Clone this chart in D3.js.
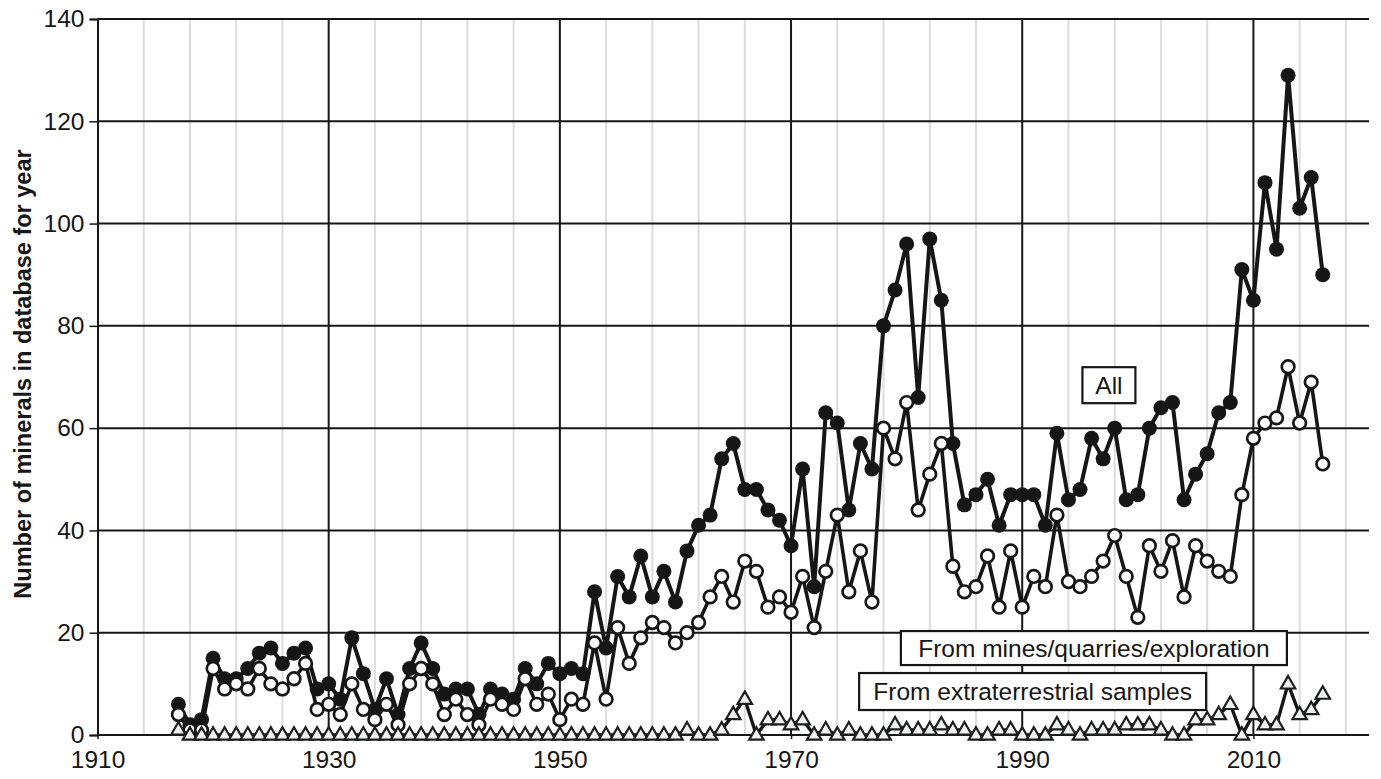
<!DOCTYPE html>
<html>
<head>
<meta charset="utf-8">
<script src="https://cdn.jsdelivr.net/npm/d3@7"></script>
<style>
  html, body { margin: 0; padding: 0; background: #fff; }
  svg { display: block; font-family: "Liberation Sans", Arial, sans-serif; }
</style>
</head>
<body>
<svg id="chart" width="1381" height="779"></svg>
<script>
// Number of new mineral species per year of description, 1917-2016
const firstYear = 1917;
const allMinerals = [
  6, 2, 3, 15, 11, 11, 13, 16, 17, 14, 16, 17, 9, 10, 7, 19, 12, 5, 11, 4,
  13, 18, 13, 8, 9, 9, 4, 9, 8, 7, 13, 10, 14, 12, 13, 12, 28, 17, 31, 27,
  35, 27, 32, 26, 36, 41, 43, 54, 57, 48, 48, 44, 42, 37, 52, 29, 63, 61, 44, 57,
  52, 80, 87, 96, 66, 97, 85, 57, 45, 47, 50, 41, 47, 47, 47, 41, 59, 46, 48, 58,
  54, 60, 46, 47, 60, 64, 65, 46, 51, 55, 63, 65, 91, 85, 108, 95, 129, 103, 109, 90
];
const fromMines = [
  4, 1, 1, 13, 9, 10, 9, 13, 10, 9, 11, 14, 5, 6, 4, 10, 5, 3, 6, 2,
  10, 13, 10, 4, 7, 4, 2, 7, 6, 5, 11, 6, 8, 3, 7, 6, 18, 7, 21, 14,
  19, 22, 21, 18, 20, 22, 27, 31, 26, 34, 32, 25, 27, 24, 31, 21, 32, 43, 28, 36,
  26, 60, 54, 65, 44, 51, 57, 33, 28, 29, 35, 25, 36, 25, 31, 29, 43, 30, 29, 31,
  34, 39, 31, 23, 37, 32, 38, 27, 37, 34, 32, 31, 47, 58, 61, 62, 72, 61, 69, 53
];
const fromExtraterrestrial = [
  1, 0, 0, 0, 0, 0, 0, 0, 0, 0, 0, 0, 0, 0, 0, 0, 0, 0, 0, 0,
  0, 0, 0, 0, 0, 0, 0, 0, 0, 0, 0, 0, 0, 0, 0, 0, 0, 0, 0, 0,
  0, 0, 0, 0, 1, 0, 0, 1, 4, 7, 0, 3, 3, 2, 3, 0, 1, 0, 1, 0,
  0, 0, 2, 1, 1, 1, 2, 1, 1, 0, 0, 1, 1, 0, 0, 0, 2, 1, 0, 1,
  1, 1, 2, 2, 2, 1, 0, 0, 3, 3, 4, 6, 0, 4, 2, 2, 10, 4, 5, 8
];
const years = allMinerals.map((_, i) => firstYear + i);

const xTicks = [1910, 1930, 1950, 1970, 1990, 2010];
const yTicks = [0, 20, 40, 60, 80, 100, 120, 140];
const minorYears = d3.range(1914, 2020, 4).filter(d => d % 20 !== 10);
const yTitle = "Number of minerals in database for year";
const seriesLabels = ["All", "From mines/quarries/exploration", "From extraterrestrial samples"];

const svg = d3.select("#chart");
const x = d3.scaleLinear().domain([1910, 2020]).range([97.5, 1369]);
const y = d3.scaleLinear().domain([0, 140]).range([735, 19]);
const ink = "#161616";

// light minor year grid
svg.append("g").selectAll("line").data(minorYears).join("line")
  .attr("x1", d => x(d)).attr("x2", d => x(d))
  .attr("y1", y(140)).attr("y2", y(0))
  .attr("stroke", "#dcdcdc").attr("stroke-width", 2);

// major grid
svg.append("g").selectAll("line").data(xTicks.slice(1)).join("line")
  .attr("x1", d => x(d)).attr("x2", d => x(d))
  .attr("y1", y(140)).attr("y2", y(0))
  .attr("stroke", ink).attr("stroke-width", 2);
svg.append("g").selectAll("line").data(yTicks.slice(1)).join("line")
  .attr("x1", x(1910)).attr("x2", x(2020))
  .attr("y1", d => y(d)).attr("y2", d => y(d))
  .attr("stroke", ink).attr("stroke-width", 2);

// axes
const yAxis = svg.append("g").attr("transform", `translate(${x(1910)},0)`)
  .call(d3.axisLeft(y).tickValues(yTicks).tickSize(8).tickPadding(5));
const xAxis = svg.append("g").attr("transform", `translate(0,${y(0)})`)
  .call(d3.axisBottom(x).tickValues(xTicks).tickFormat(d3.format("d")).tickSize(4).tickPadding(12));
[yAxis, xAxis].forEach(g => {
  g.select(".domain").attr("stroke", ink).attr("stroke-width", 2);
  g.selectAll(".tick line").attr("stroke", ink).attr("stroke-width", 1.5);
  g.selectAll(".tick text").attr("fill", ink).attr("font-size", 24.5)
    .attr("font-family", "'Liberation Sans', Arial, sans-serif");
});
xAxis.select(".domain").attr("d", `M${x(1910)},0H${x(2020)}`);

svg.append("text")
  .attr("transform", `translate(25,${(y(0) + y(140)) / 2 - 3}) rotate(-90)`)
  .attr("text-anchor", "middle").attr("dominant-baseline", "middle")
  .attr("font-size", 23.5).attr("font-weight", "bold").attr("fill", ink)
  .text(yTitle);

const line = d3.line().x((d, i) => x(years[i])).y(d => y(d));

// All minerals: filled circles
svg.append("path").datum(allMinerals).attr("d", line)
  .attr("fill", "none").attr("stroke", ink).attr("stroke-width", 4).attr("stroke-linejoin", "round");
svg.append("g").selectAll("circle").data(allMinerals).join("circle")
  .attr("cx", (d, i) => x(years[i])).attr("cy", d => y(d)).attr("r", 7.5)
  .attr("fill", ink);

// From mines: open circles
svg.append("path").datum(fromMines).attr("d", line)
  .attr("fill", "none").attr("stroke", ink).attr("stroke-width", 3.6).attr("stroke-linejoin", "round");
svg.append("g").selectAll("circle").data(fromMines).join("circle")
  .attr("cx", (d, i) => x(years[i])).attr("cy", d => y(d)).attr("r", 6.3)
  .attr("fill", "#fff").attr("stroke", ink).attr("stroke-width", 2.7);

// From extraterrestrial samples: open triangles
svg.append("path").datum(fromExtraterrestrial).attr("d", line)
  .attr("fill", "none").attr("stroke", ink).attr("stroke-width", 3.4).attr("stroke-linejoin", "round");
const tri = d3.symbol().type(d3.symbolTriangle).size(90);
svg.append("g").selectAll("path").data(fromExtraterrestrial).join("path")
  .attr("d", tri)
  .attr("transform", (d, i) => `translate(${x(years[i])},${y(d) + 0.5})`)
  .attr("fill", "#eef3f1").attr("stroke", "#1e1e1e").attr("stroke-width", 2.2);

// series labels in boxes
const boxes = [
  { text: seriesLabels[0], cx: 1997.5, cy: 68.4, w: 53, h: 36 },
  { text: seriesLabels[1], cx: 1996.2, cy: 17.0, w: 386, h: 34 },
  { text: seriesLabels[2], cx: 1990.9, cy: 8.5, w: 347, h: 37 }
];
const lg = svg.append("g").selectAll("g").data(boxes).join("g")
  .attr("transform", d => `translate(${x(d.cx)},${y(d.cy)})`);
lg.append("rect")
  .attr("x", d => -d.w / 2).attr("y", d => -d.h / 2)
  .attr("width", d => d.w).attr("height", d => d.h)
  .attr("fill", "#fff").attr("stroke", ink).attr("stroke-width", 2.2);
lg.append("text")
  .attr("text-anchor", "middle").attr("y", 8.5)
  .attr("font-size", 24.5).attr("fill", ink)
  .text(d => d.text);
</script>
</body>
</html>
